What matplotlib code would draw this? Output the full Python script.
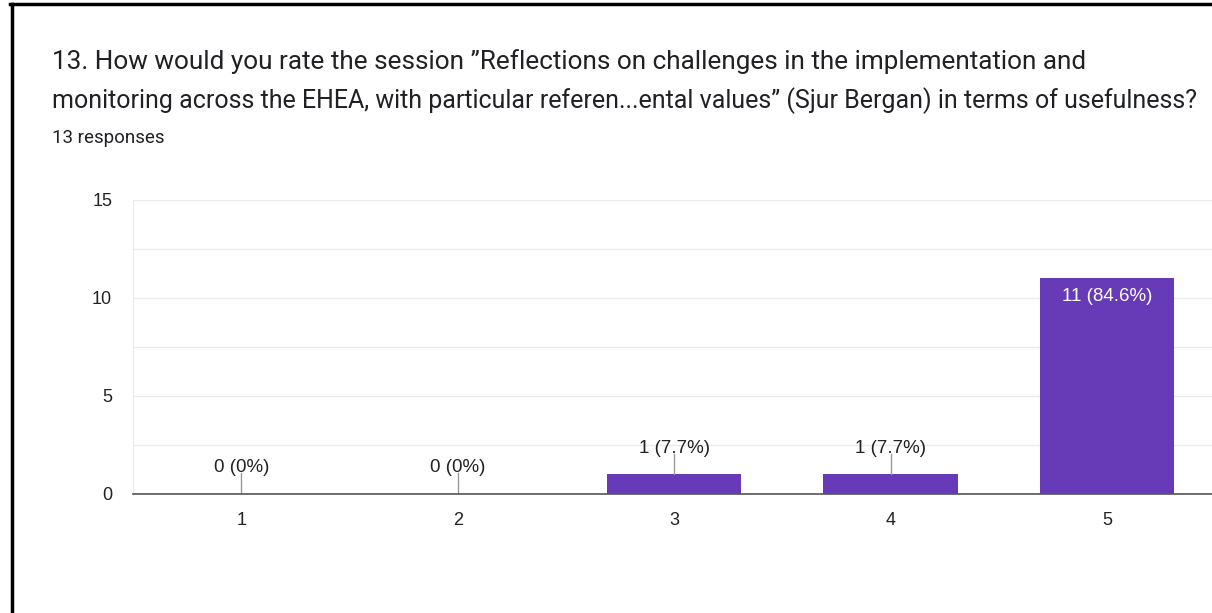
import matplotlib
matplotlib.use("Agg")
import matplotlib.pyplot as plt
import numpy as np

categories = ["1", "2", "3", "4", "5"]
counts = [0, 0, 1, 1, 11]
total = 13
title_line1 = "13. How would you rate the session \u201dReflections on challenges in the implementation and"
title_line2 = "monitoring across the EHEA, with particular referen...ental values\u201d (Sjur Bergan) in terms of usefulness?"
subtitle = "13 responses"

BAR_COLOR = "#673ab7"

fig = plt.figure(figsize=(12.12, 6.13), dpi=100)
fig.patch.set_facecolor("white")

# black frame lines (top and left) like the screenshot crop
fig.add_artist(plt.Line2D([0.0085, 1.0], [0.9935, 0.9935], color="black", lw=2.5, transform=fig.transFigure))
fig.add_artist(plt.Line2D([0.0095, 0.0095], [0.0, 0.9935], color="black", lw=2.5, transform=fig.transFigure))

fig.text(52 / 1212, 1 - 62 / 613, title_line1, fontsize=18.8, family="Roboto", va="center", ha="left", color="#202124")
fig.text(52 / 1212, 1 - 101 / 613, title_line2, fontsize=18.0, family="Roboto", va="center", ha="left", color="#202124")
fig.text(52 / 1212, 1 - 138 / 613, subtitle, fontsize=13.5, family="Roboto", va="center", ha="left", color="#202124")

ax = fig.add_axes([133 / 1212, 119 / 613, 1079 / 1212, 294 / 613])
x = np.arange(1, len(categories) + 1)
ax.bar(x, counts, width=0.62, color=BAR_COLOR, zorder=3)

ax.set_xlim(0.5, 5.485)
ax.set_ylim(0, 15)
ax.set_yticks([0, 5, 10, 15])
ax.set_yticks([2.5, 7.5, 12.5], minor=True)
ax.set_xticks(x)
ax.set_xticklabels(categories)
ax.grid(axis="y", which="both", color="#ebebeb", lw=1, zorder=0)
ax.tick_params(axis="both", which="both", length=0, labelsize=13, colors="#222222")
ax.tick_params(axis="x", pad=13)
ax.tick_params(axis="y", pad=15)
for lab in ax.get_xticklabels() + ax.get_yticklabels():
    lab.set_family("Liberation Sans")
for side in ["top", "right"]:
    ax.spines[side].set_visible(False)
ax.spines["left"].set_color("#ebebeb")
ax.spines["bottom"].set_color("#555555")
ax.spines["bottom"].set_linewidth(1.2)
ax.spines["bottom"].set_zorder(4)

for xi, c in zip(x, counts):
    pct = c / total * 100
    label = f"{c} ({pct:.1f}%)" if c else f"{c} (0%)"
    if c >= 5:
        ax.text(xi, c - 0.5, label, ha="center", va="top", color="white", fontsize=13.5, family="Liberation Sans", zorder=5)
    else:
        ax.plot([xi, xi], [c, c + 1.05], color="#999999", lw=1, zorder=4)
        ax.text(xi, c + 0.9, label, ha="center", va="bottom", color="#222222", fontsize=13.5, family="Liberation Sans", zorder=5)

fig.savefig("out.png", dpi=100, facecolor="white")
